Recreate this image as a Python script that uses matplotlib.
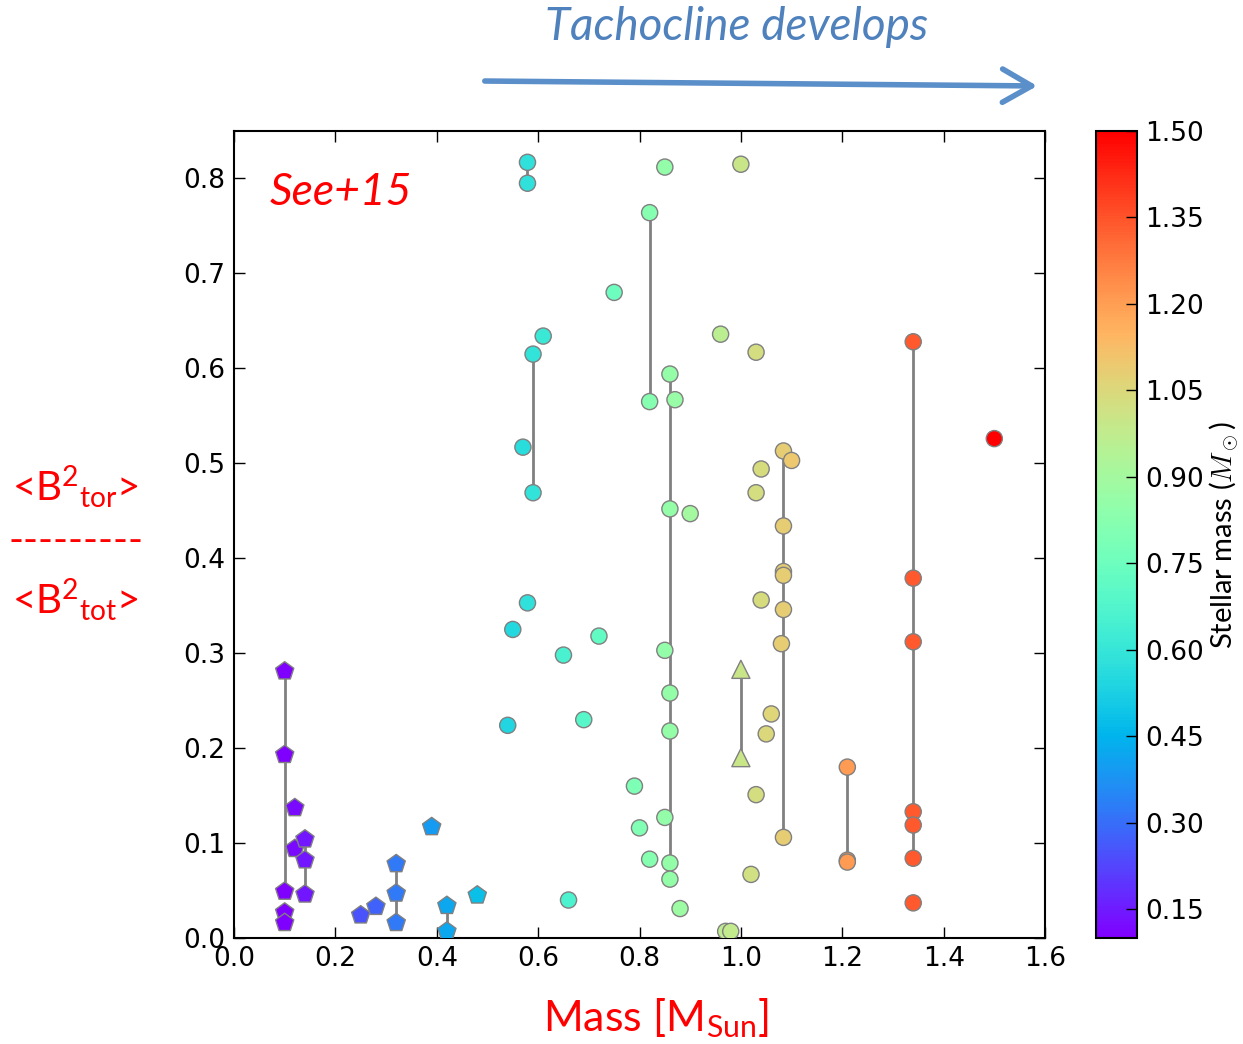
import numpy as np
import matplotlib
matplotlib.use("Agg")
import matplotlib.pyplot as plt

plt.rcParams['mathtext.fontset'] = 'custom'
plt.rcParams['mathtext.rm'] = 'Lato'
plt.rcParams['mathtext.it'] = 'Lato:italic'
plt.rcParams['mathtext.bf'] = 'Lato:bold'

# fully convective stars (pentagons)
pent_mass = [0.10, 0.10, 0.10, 0.10, 0.10, 0.12, 0.12, 0.14, 0.14, 0.14,
             0.25, 0.28, 0.32, 0.32, 0.32, 0.39, 0.42, 0.42, 0.48]
pent_ratio = [0.281, 0.193, 0.049, 0.027, 0.016, 0.137, 0.094, 0.104, 0.082, 0.046,
              0.024, 0.033, 0.078, 0.047, 0.016, 0.117, 0.034, 0.007, 0.045]

# partly convective stars (circles)
circ_mass = [0.579, 0.579, 0.85, 1.00, 0.82, 0.82, 0.75, 0.61, 0.59, 0.59,
             0.57, 0.96, 1.03, 0.86, 0.87, 0.86, 0.90, 1.04, 1.03,
             1.084, 1.10, 1.084, 1.084, 1.084, 1.084, 1.08, 1.084,
             0.579, 0.55, 0.72, 0.65, 0.85, 0.86, 0.86, 0.54, 0.69,
             0.79, 0.85, 0.80, 0.82, 0.86, 0.86, 0.88, 0.66, 0.97, 0.98,
             1.04, 1.06, 1.05, 1.03, 1.02,
             1.34, 1.34, 1.34, 1.34, 1.34, 1.34, 1.34,
             1.21, 1.21, 1.21, 1.50]
circ_ratio = [0.817, 0.795, 0.812, 0.815, 0.764, 0.565, 0.680, 0.634, 0.615, 0.469,
              0.517, 0.636, 0.617, 0.594, 0.567, 0.452, 0.447, 0.494, 0.469,
              0.513, 0.503, 0.434, 0.386, 0.382, 0.346, 0.310, 0.106,
              0.353, 0.325, 0.318, 0.298, 0.303, 0.258, 0.218, 0.224, 0.230,
              0.160, 0.127, 0.116, 0.083, 0.079, 0.062, 0.031, 0.040, 0.007, 0.007,
              0.356, 0.236, 0.215, 0.151, 0.067,
              0.628, 0.379, 0.312, 0.133, 0.119, 0.084, 0.037,
              0.180, 0.082, 0.080, 0.526]

# triangles
tri_mass = [1.00, 1.00]
tri_ratio = [0.283, 0.190]

# same star observed at several epochs
vline_mass = [0.10, 0.14, 0.32, 0.42, 0.579, 0.59, 0.82, 0.86, 1.00, 1.084, 1.21, 1.34]
vline_lo = [0.049, 0.046, 0.016, 0.007, 0.795, 0.469, 0.565, 0.079, 0.190, 0.106, 0.082, 0.084]
vline_hi = [0.281, 0.104, 0.078, 0.034, 0.817, 0.615, 0.764, 0.594, 0.283, 0.513, 0.180, 0.628]

W, H = 1243, 1044
fig = plt.figure(figsize=(W / 100, H / 100), dpi=100)
ax = fig.add_axes([234 / W, 1 - 938 / H, 811 / W, 807 / H])
cax = fig.add_axes([1096 / W, 1 - 938 / H, 41 / W, 807 / H])

norm = dict(cmap='rainbow', vmin=0.1, vmax=1.5)
mk = dict(edgecolors='0.5', linewidths=1.0, zorder=3)

ax.vlines(vline_mass, vline_lo, vline_hi, colors='0.5', lw=2, zorder=2)
sc = ax.scatter(circ_mass, circ_ratio, c=circ_mass, marker='o', s=135, **norm, **mk)
ax.scatter(pent_mass, pent_ratio, c=pent_mass, marker='p', s=190, **norm, **mk)
ax.scatter(tri_mass, tri_ratio, c=tri_mass, marker='^', s=170, **norm, **mk)

ax.set_xlim(0, 1.6)
ax.set_ylim(0, 0.85)
ax.set_xticks(np.arange(0, 1.61, 0.2))
ax.set_yticks(np.arange(0, 0.81, 0.1))
ax.xaxis.set_major_formatter(matplotlib.ticker.FormatStrFormatter('%.1f'))
ax.yaxis.set_major_formatter(matplotlib.ticker.FormatStrFormatter('%.1f'))
ax.tick_params(direction='in', top=True, right=True, length=8, width=1,
               labelsize=19, pad=6)
for sp in ax.spines.values():
    sp.set_linewidth(1.5)

cb = fig.colorbar(sc, cax=cax, ticks=np.arange(0.15, 1.51, 0.15), format='%.2f')
cb.ax.tick_params(direction='in', length=8, width=1, labelsize=19, pad=6)
cb.outline.set_linewidth(1.5)
# colorbar title placed by hand so it stays inside the figure
fig.text(1225 / W, 1 - 535 / H, r'Stellar mass ($M_\odot$)', family='Lato',
         fontsize=21, math_fontfamily='cm', rotation=90,
         ha='center', va='center')

# annotations
ax.text(0.044, 0.924, 'See+15', transform=ax.transAxes, color='red',
        family='Lato', style='italic', fontsize=32, va='center', ha='left')

fig.text(737 / W, 1 - 27 / H, 'Tachocline develops', color='#4f81bd',
         family='Lato', style='italic', fontsize=33, ha='center', va='center')
fig.patches.append(matplotlib.patches.FancyArrowPatch(
    (482 / W, 1 - 81 / H), (1040 / W, 1 - 86 / H), transform=fig.transFigure,
    arrowstyle='->,head_length=0.7,head_width=0.4', mutation_scale=30,
    color='#5b8fc9', lw=4))

fig.text(656 / W, 1 - 1018 / H, r'Mass [M$_{\mathrm{Sun}}$]', color='red',
         family='Lato', fontsize=31, ha='center', va='center')
fig.text(75 / W, 1 - 487 / H, r'<B$^{2}$$_{\mathrm{tor}}$>', color='red',
         family='Lato', fontsize=29, ha='center', va='center')
fig.text(76 / W, 1 - 541 / H, '---------', color='red',
         family='Lato', fontsize=29, ha='center', va='center')
fig.text(75 / W, 1 - 600 / H, r'<B$^{2}$$_{\mathrm{tot}}$>', color='red',
         family='Lato', fontsize=29, ha='center', va='center')

fig.savefig('out.png', dpi=100)
